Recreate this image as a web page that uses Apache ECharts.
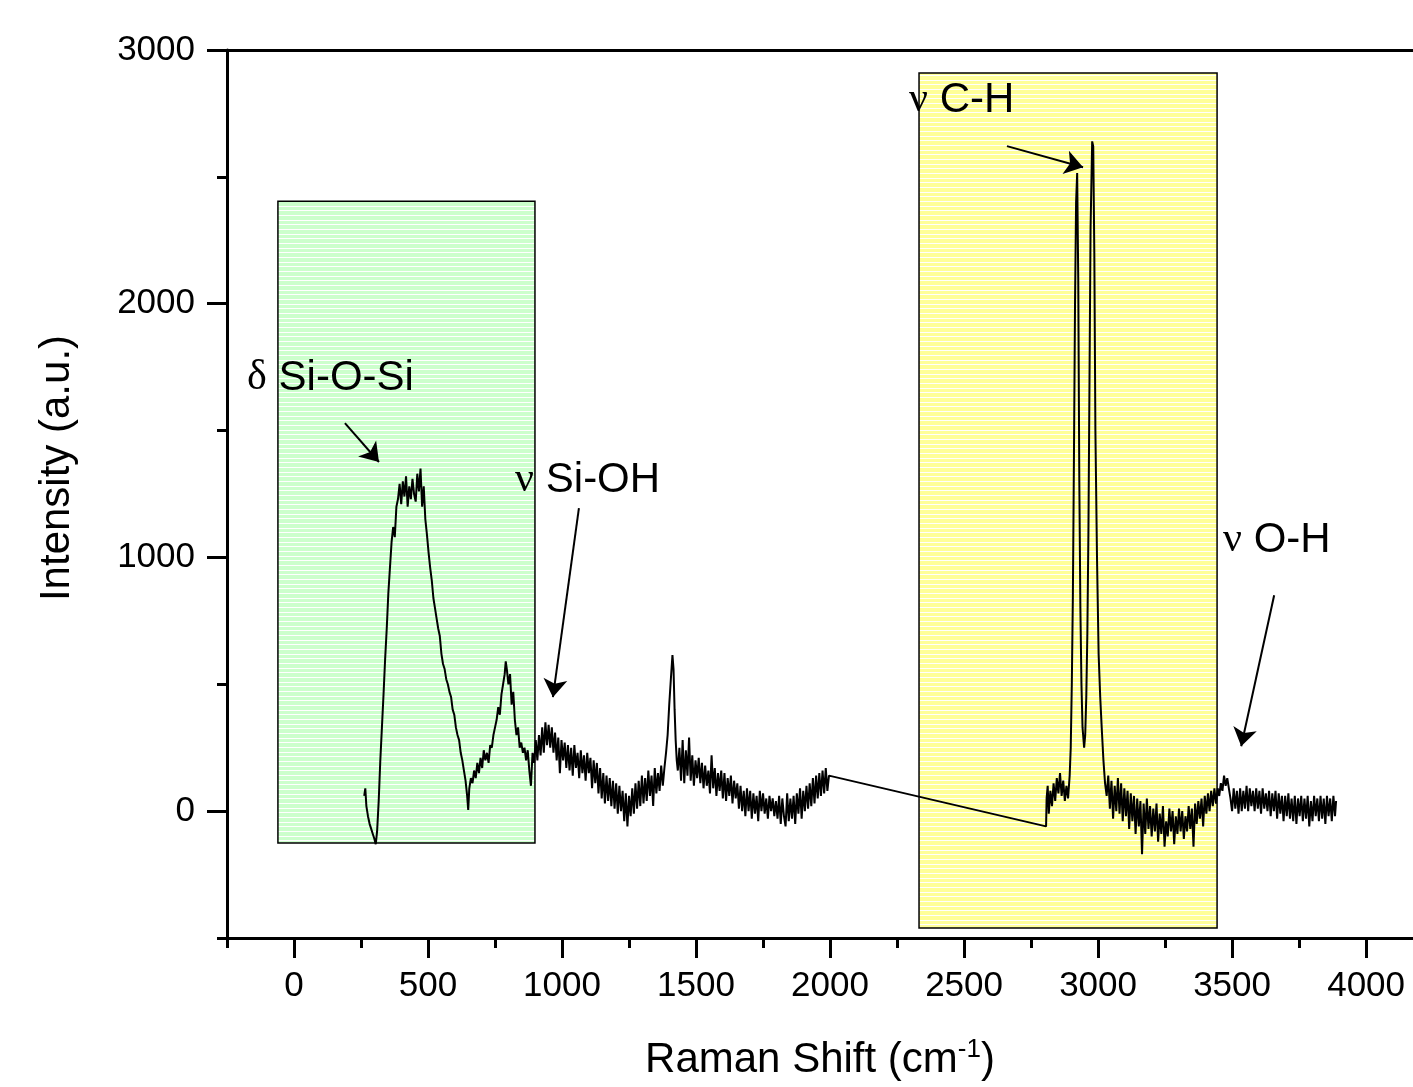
<!DOCTYPE html>
<html>
<head>
<meta charset="utf-8">
<script src="https://cdn.jsdelivr.net/npm/echarts@6/dist/echarts.min.js"></script>
<style>
  html, body { margin: 0; padding: 0; background: #fff; }
  #main { width: 1413px; height: 1087px; }
</style>
</head>
<body>
<div id="main"></div>
<script>
// spectrum: [Raman shift, intensity]
var specLow = [
  [262,60],[266,90],[270,20],[276,-20],[282,-50],[288,-70],[294,-90],[300,-110],[305,-130],[310,-80],
  [316,40],[322,200],[328,330],[334,460],[340,600],[346,720],[352,860],[358,960],[364,1060],[370,1120],
  [376,1080],[382,1200],[388,1230],[394,1290],[400,1210],[406,1300],[412,1240],[418,1320],[424,1200],[430,1280],
  [436,1230],[442,1310],[448,1250],[454,1220],[460,1330],[466,1260],[472,1350],[478,1200],[484,1280],[490,1150],
  [496,1090],[502,1020],[508,960],[514,910],[520,840],[526,800],[532,760],[538,720],[544,690],[550,620],
  [556,580],[562,560],[568,520],[574,500],[580,470],[586,450],[592,400],[598,380],[604,330],[610,300],
  [616,280],[622,230],[628,200],[634,160],[640,120],[646,60],[650,5],[654,90],[660,130],[666,110],
  [672,160],[678,130],[684,190],[690,150],[696,210],[702,170],[708,240],[714,200],[720,230],[726,190],
  [732,260],[738,250],[744,300],[750,330],[756,360],[762,410],[768,380],[774,460],[780,500],[786,540],
  [790,590],[794,560],[800,500],[806,540],[812,420],[818,470],[824,360],[830,300],[836,330],[842,250],
  [848,270],[854,230],[860,250],[866,200],[872,240],[878,160],[884,100],[890,230],[896,190],
  [902,280],[908,200],[914,300],[920,220],[926,330],[932,230],[938,350],[944,260],[950,340],[956,250],
  [962,330],[968,230],[974,310],[980,200],[986,290],[992,150],[998,280],[1004,200],[1010,270],[1016,170],
  [1022,260],[1028,160],[1034,250],[1040,140],[1046,260],[1052,170],[1058,230],[1064,130],[1070,240],[1076,150],
  [1082,220],[1088,120],[1094,230],[1100,150],[1106,210],[1112,90],[1118,200],[1124,110],[1130,190],[1136,70],
  [1142,170],[1148,50],[1154,150],[1160,30],[1166,140],[1172,40],[1178,130],[1184,20],[1190,120],[1196,10],
  [1202,110],[1208,-10],[1214,100],[1220,0],[1226,80],[1232,-40],[1238,70],[1244,-60],[1250,60],[1256,-20],
  [1262,90],[1268,-10],[1274,110],[1280,10],[1286,120],[1292,20],[1298,140],[1304,30],[1310,130],[1316,40],
  [1322,160],[1328,60],[1334,140],[1340,20],[1346,170],[1352,70],[1358,150],[1364,80],[1370,180],[1376,100],
  [1382,170],[1388,230],[1394,300],[1400,420],[1406,520],[1412,615],[1416,560],[1420,400],[1424,280],[1428,200],
  [1432,160],[1438,250],[1444,120],[1450,280],[1456,110],[1462,240],[1468,140],[1474,290],[1480,120],[1486,220],
  [1492,100],[1498,200],[1504,130],[1510,210],[1516,110],[1522,190],[1528,90],[1534,180],[1540,100],[1546,160],
  [1552,70],[1558,220],[1564,90],[1570,170],[1576,60],[1582,150],[1588,80],[1594,160],[1600,50],[1606,150],
  [1612,40],[1618,130],[1624,60],[1630,140],[1636,30],[1642,120],[1648,50],[1654,110],[1660,10],[1666,100],
  [1672,0],[1678,80],[1684,-20],[1690,90],[1696,0],[1702,80],[1708,-30],[1714,70],[1720,-10],[1726,60],
  [1732,-40],[1738,80],[1744,0],[1750,70],[1756,-10],[1762,50],[1768,-30],[1774,60],[1780,0],[1786,50],
  [1792,-20],[1798,40],[1804,-30],[1810,60],[1816,-50],[1822,50],[1828,-20],[1834,-60],[1840,70],[1846,-40],
  [1852,50],[1858,-30],[1864,60],[1870,-50],[1876,70],[1882,-10],[1888,90],[1894,-30],[1900,80],[1906,0],
  [1912,100],[1918,10],[1924,110],[1930,20],[1936,130],[1942,30],[1948,140],[1954,50],[1960,150],[1966,60],
  [1972,160],[1978,70],[1984,170],[1990,80],[1996,140]
];
var specHigh = [
  [2806,-60],[2808,50],[2812,100],[2816,-10],[2822,80],[2828,20],[2834,110],[2840,40],[2846,130],[2852,70],
  [2858,150],[2864,60],[2870,120],[2876,40],[2882,100],[2888,50],[2894,140],[2898,250],[2902,500],[2906,850],
  [2910,1400],[2914,2000],[2918,2400],[2922,2515],[2926,2100],[2930,1300],[2934,800],[2938,500],[2942,330],[2948,250],
  [2952,300],[2956,450],[2960,700],[2964,1100],[2968,1700],[2972,2300],[2978,2640],[2982,2620],[2986,2200],[2990,1500],
  [2996,1000],[3002,620],[3008,450],[3014,320],[3020,200],[3026,110],[3032,60],
  [3038,140],[3044,10],[3050,120],[3056,-30],[3062,100],[3068,0],[3074,130],[3080,-10],[3086,110],[3092,-40],
  [3098,90],[3104,-20],[3110,80],[3116,-70],[3122,70],[3128,-40],[3134,60],[3140,-90],[3146,50],[3152,-60],
  [3158,40],[3164,-170],[3170,30],[3176,-90],[3182,50],[3188,-70],[3194,20],[3200,-100],[3206,10],[3212,-80],
  [3218,30],[3224,-120],[3230,-10],[3236,-90],[3242,20],[3248,-140],[3254,-40],[3260,-100],[3266,10],[3272,-80],
  [3278,0],[3284,-130],[3290,-20],[3296,-90],[3302,10],[3308,-80],[3314,0],[3320,-110],[3326,-20],[3332,-80],
  [3338,20],[3344,-70],[3350,10],[3356,-140],[3362,30],[3368,-50],[3374,40],[3380,-30],[3386,50],[3392,-60],
  [3398,60],[3404,-10],[3410,70],[3416,0],[3422,80],[3428,20],[3434,90],[3440,30],[3446,90],[3452,60],
  [3458,110],[3464,80],[3470,140],[3476,100],[3482,130],[3488,90],
  [3494,50],[3500,0],[3506,90],[3512,10],[3518,80],[3524,-10],[3530,90],[3536,0],[3542,80],[3548,10],
  [3554,100],[3560,0],[3566,90],[3572,20],[3578,80],[3584,0],[3590,90],[3596,10],[3602,80],[3608,-10],
  [3614,90],[3620,10],[3626,70],[3632,0],[3638,80],[3644,-20],[3650,70],[3656,0],[3662,80],[3668,-30],
  [3674,70],[3680,-10],[3686,60],[3692,-40],[3698,60],[3704,-20],[3710,70],[3716,-30],[3722,50],[3728,-40],
  [3734,60],[3740,-50],[3746,50],[3752,-20],[3758,60],[3764,-40],[3770,50],[3776,-30],[3782,60],[3788,-60],
  [3794,40],[3800,-40],[3806,60],[3812,-20],[3818,50],[3824,-40],[3830,60],[3836,-30],[3842,50],[3848,-50],
  [3854,60],[3860,-20],[3866,50],[3872,-40],[3878,60],[3884,-20],[3888,40]
];

var xMajor = [0, 500, 1000, 1500, 2000, 2500, 3000, 3500, 4000];
var xMinor = [-250, 250, 750, 1250, 1750, 2250, 2750, 3250, 3750];
var yMajor = [0, 1000, 2000, 3000];
var yMinor = [-500, 500, 1500, 2500];

// shaded bands [x0, y0, x1, y1]
var bandSiO = [-60, 2404, 899, -126];
var bandCH = [2332, 2909, 3444, -461];

// labels [x, y, greek, rest] and arrows [x0, y0, x1, y1]
var labels = [
  [-175, 1707, 'δ', 'Si-O-Si'],
  [825, 1305, 'ν', 'Si-OH'],
  [2295, 2803, 'ν', 'C-H'],
  [3466, 1068, 'ν', 'O-H']
];
var arrows = [
  [190, 1529, 317, 1376],
  [1063, 1194, 966, 449],
  [2660, 2621, 2944, 2538],
  [3657, 851, 3534, 256]
];

function stripes(fill) {
  var c = document.createElement('canvas');
  c.width = 6; c.height = 14;
  var ctx = c.getContext('2d');
  ctx.fillStyle = fill;
  ctx.fillRect(0, 0, 6, 14);
  ctx.fillStyle = '#ffffff';
  ctx.fillRect(0, 0, 6, 1);
  ctx.fillRect(0, 5, 6, 1);
  ctx.fillRect(0, 10, 6, 1);
  return { image: c, repeat: 'repeat' };
}

var FONT = 'Liberation Sans, Arial, sans-serif';
var SERIF = 'Liberation Serif, Times New Roman, serif';
var plain = function (v) { return String(v); };
var chart = echarts.init(document.getElementById('main'), null, { renderer: 'canvas' });

var xBase = { type: 'value', min: -250, max: 4175, splitLine: { show: false } };
var yBase = { type: 'value', min: -500, max: 3000, splitLine: { show: false } };

chart.setOption({
  animation: false,
  backgroundColor: '#fff',
  grid: { left: 227, top: 50, right: 0, bottom: 149 },
  xAxis: [
    Object.assign({}, xBase, {
      position: 'bottom',
      name: '{t|Raman Shift (cm}{sup|-1}{t|)}',
      nameLocation: 'middle',
      nameGap: 99,
      nameTextStyle: {
        fontFamily: FONT, fontSize: 42, color: '#000',
        rich: {
          t: { fontFamily: FONT, fontSize: 42, color: '#000' },
          sup: { fontFamily: FONT, fontSize: 26, color: '#000', verticalAlign: 'top', padding: [0, 0, 20, 0] }
        }
      },
      axisLine: { onZero: false, lineStyle: { color: '#000', width: 3 } },
      axisTick: { length: 20, lineStyle: { color: '#000', width: 3 }, customValues: xMajor },
      axisLabel: { fontFamily: FONT, fontSize: 35, color: '#000', margin: 31, customValues: xMajor, formatter: plain }
    }),
    Object.assign({}, xBase, {
      position: 'bottom',
      axisLine: { show: false, onZero: false },
      axisTick: { length: 10, lineStyle: { color: '#000', width: 3 }, customValues: xMinor },
      axisLabel: { show: false }
    }),
    Object.assign({}, xBase, {
      position: 'top',
      axisLine: { onZero: false, lineStyle: { color: '#000', width: 3 } },
      axisTick: { show: false },
      axisLabel: { show: false }
    })
  ],
  yAxis: [
    Object.assign({}, yBase, {
      position: 'left',
      axisLine: { onZero: false, lineStyle: { color: '#000', width: 3 } },
      axisTick: { length: 20, lineStyle: { color: '#000', width: 3 }, customValues: yMajor },
      axisLabel: { fontFamily: FONT, fontSize: 35, color: '#000', margin: 32, customValues: yMajor, formatter: plain }
    }),
    Object.assign({}, yBase, {
      position: 'left',
      axisLine: { show: false, onZero: false },
      axisTick: { length: 10, lineStyle: { color: '#000', width: 3 }, customValues: yMinor },
      axisLabel: { show: false }
    })
  ],
  graphic: [{
    type: 'text',
    x: 57, y: 468,
    rotation: Math.PI / 2,
    style: {
      text: 'Intensity (a.u.)',
      font: '42px ' + FONT,
      fill: '#000',
      align: 'center',
      verticalAlign: 'middle'
    }
  }],
  series: [
    {
      type: 'line',
      data: [],
      z: 1,
      silent: true,
      markArea: {
        silent: true,
        data: [
          [{ coord: [bandSiO[0], bandSiO[1]], itemStyle: { color: stripes('#ccffcc'), borderColor: '#000', borderWidth: 1.5 } },
           { coord: [bandSiO[2], bandSiO[3]] }],
          [{ coord: [bandCH[0], bandCH[1]], itemStyle: { color: stripes('#ffff99'), borderColor: '#000', borderWidth: 1.5 } },
           { coord: [bandCH[2], bandCH[3]] }]
        ]
      }
    },
    {
      type: 'line',
      data: specLow.concat(specHigh),
      z: 3,
      showSymbol: false,
      symbol: 'none',
      lineStyle: { color: '#000', width: 2 },
      silent: true
    },
    {
      type: 'scatter',
      z: 4,
      symbolSize: 0,
      silent: true,
      itemStyle: { opacity: 1 },
      data: labels.map(function (l) { return [l[0], l[1], l[2], l[3]]; }),
      label: {
        show: true,
        position: 'right',
        distance: 0,
        opacity: 1,
        formatter: function (p) { return '{g|' + p.data[2] + '}{t| ' + p.data[3] + '}'; },
        fontFamily: FONT,
        fontSize: 42,
        color: '#000',
        textBorderWidth: 0,
        rich: {
          g: { fontFamily: SERIF, fontSize: 42, color: '#000' },
          t: { fontFamily: FONT, fontSize: 42, color: '#000' }
        }
      },
      markLine: {
        silent: true,
        symbol: ['none', 'arrow'],
        symbolSize: 18,
        label: { show: false },
        lineStyle: { color: '#000', width: 2, type: 'solid', opacity: 1 },
        data: arrows.map(function (a) {
          return [{ coord: [a[0], a[1]] }, { coord: [a[2], a[3]] }];
        })
      }
    }
  ]
});
</script>
</body>
</html>
